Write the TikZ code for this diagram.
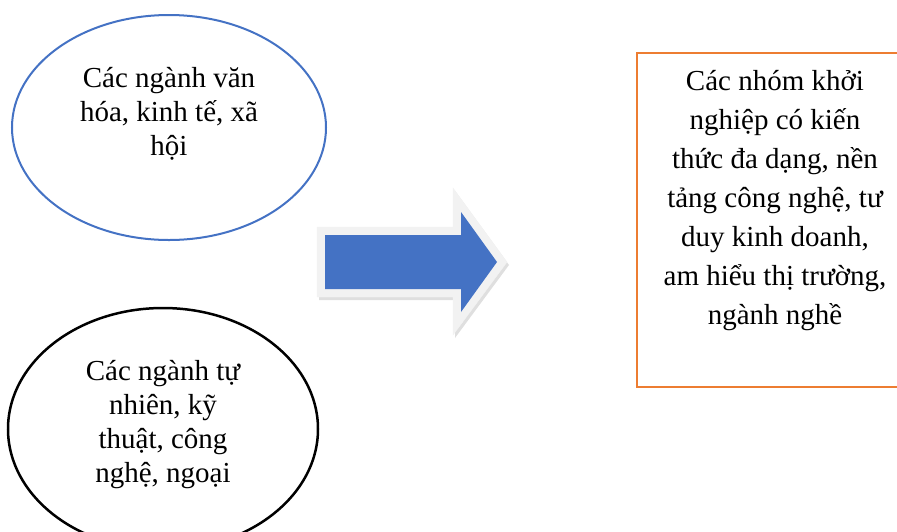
\documentclass[tikz,border=0pt]{standalone}
\usepackage{fontspec}
\setmainfont{Liberation Serif}
\usetikzlibrary{shapes.geometric,shadows}
\definecolor{ovalblue}{HTML}{4472C4}
\definecolor{boxorange}{HTML}{ED7D31}
\definecolor{bevelgray}{HTML}{F2F2F2}

\begin{document}
\begin{tikzpicture}[x=1pt,y=-1pt,
  txt/.style={align=center,inner sep=0pt,font=\fontsize{29}{34}\selectfont},
  oval/.style={ellipse,draw,inner sep=0pt}]
\useasboundingbox (0,0) rectangle (897,531);
\clip (0,0) rectangle (897,531);

\node[oval,draw=ovalblue,line width=2pt,minimum width=314pt,minimum height=225pt] (culture) at (169,127.5) {};
\node[txt] (culturetxt) at (169,114) {Các ngành văn\\hóa, kinh tế, xã\\hội};

\node[oval,line width=2.5pt,minimum width=310pt,minimum height=242pt] (science) at (163,429) {};
\node[txt] (sciencetxt) at (163,425) {Các ngành tự\\nhiên, kỹ\\thuật, công\\nghệ, ngoại};

\draw[bevelgray,fill=bevelgray,drop shadow={opacity=0.25,shadow xshift=2pt,shadow yshift=-3pt}]
  (317,227) -- (453,227) -- (453,188) -- (507,262) -- (453,335) -- (453,297) -- (317,297) -- cycle;
\fill[ovalblue] (325,235) -- (461,235) -- (461,212) -- (497,262) -- (461,312) -- (461,289) -- (325,289) -- cycle;

\node[draw=boxorange,line width=2pt,minimum width=276pt,minimum height=334pt,inner sep=0pt] (startup) at (775,220) {};
\node[txt,font=\fontsize{29}{39}\selectfont] (startuptxt) at (775,201) {Các nhóm khởi\\nghiệp có kiến\\thức đa dạng, nền\\tảng công nghệ, tư\\duy kinh doanh,\\am hiểu thị trường,\\ngành nghề};
\end{tikzpicture}
\end{document}
